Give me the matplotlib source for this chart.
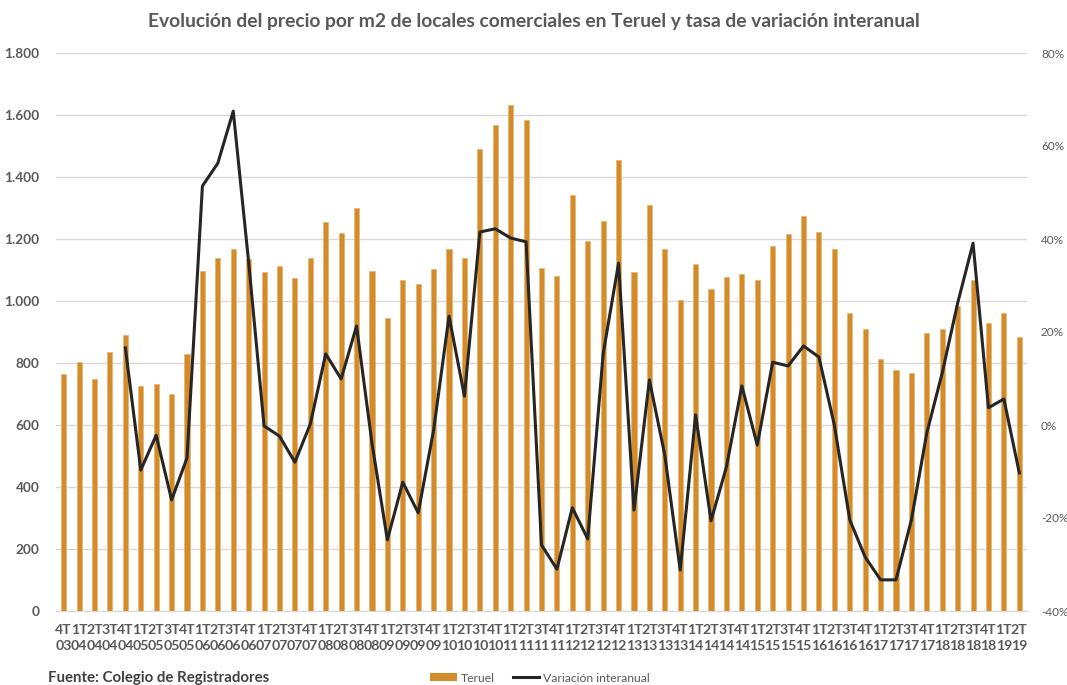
import numpy as np
import matplotlib.pyplot as plt
from matplotlib.lines import Line2D
from matplotlib.patches import Patch
from matplotlib.ticker import FuncFormatter

plt.rcParams['font.family'] = ['Lato', 'DejaVu Sans']

# Periodos trimestrales: 4T03 ... 2T19
periodos = ['4T03'] + [f'{q}T{a:02d}' for a in range(4, 19) for q in range(1, 5)] + ['1T19', '2T19']

# Precio medio por m2 de locales comerciales en Teruel (EUR)
precio = [765, 803, 748, 835, 890, 726, 732, 700, 829,
          1097, 1139, 1168, 1135, 1094, 1113, 1074, 1139,
          1255, 1219, 1300, 1097, 945, 1068, 1055, 1103,
          1168, 1139, 1490, 1568, 1632, 1584, 1106, 1081,
          1342, 1194, 1258, 1455, 1094, 1310, 1168, 1003,
          1118, 1039, 1077, 1087, 1068, 1177, 1216, 1274,
          1223, 1168, 960, 910, 813, 777, 768, 897,
          910, 984, 1068, 929, 961, 884]

# Tasa de variación interanual (%), desde 4T04
variacion = [16.6, -9.7, -2.2, -16.1, -7.1,
             51.4, 56.3, 67.5, 35.0, -0.2, -2.4, -8.0, 0.2,
             15.3, 9.9, 21.3, -3.9, -24.7, -12.3, -18.9, -1.1,
             23.4, 6.2, 41.5, 42.2, 40.2, 39.4, -25.8, -31.0,
             -17.8, -24.5, 15.3, 34.8, -18.3, 9.7, -6.5, -31.2,
             2.2, -20.6, -9.0, 8.4, -4.3, 13.5, 12.7, 17.0,
             14.6, 0.0, -20.4, -28.4, -33.3, -33.3, -20.4, -1.7,
             11.2, 26.2, 39.1, 3.7, 5.6, -10.3]

naranja = '#D48B2A'
gris_texto = '#595959'
gris_rejilla = '#D9D9D9'

x = np.arange(len(periodos))
x_var = x[len(periodos) - len(variacion):]

fig = plt.figure(figsize=(10.67, 6.85), dpi=100)
ax = fig.add_axes([56 / 1067, 1 - 611 / 685, 971 / 1067, 558 / 685])

ax.bar(x, precio, width=0.33, color=naranja, edgecolor='#E6B46E', linewidth=0.5, zorder=2)
ax.set_xlim(-0.5, len(periodos) - 0.5)
ax.set_ylim(0, 1800)
ax.set_yticks(range(0, 1801, 200))
ax.yaxis.set_major_formatter(FuncFormatter(lambda v, p: f'{int(v):,}'.replace(',', '.')))
ax.grid(axis='y', color=gris_rejilla, linewidth=1, zorder=0)
ax.set_axisbelow(True)
for s in ['top', 'right', 'left']:
    ax.spines[s].set_visible(False)
ax.spines['bottom'].set_color(gris_rejilla)
ax.tick_params(axis='y', length=0, pad=12, labelsize=9.8, labelcolor=gris_texto)
for t in ax.get_yticklabels():
    t.set_fontweight('bold')

ax.set_xticks(x)
ax.set_xticklabels([p[:2] + '\n' + p[2:] for p in periodos], fontsize=10.2,
                   fontweight='bold', color=gris_texto, linespacing=1.4)
ax.tick_params(axis='x', length=0, pad=9)

# Eje secundario para la variación interanual
ax2 = ax.twinx()
ax2.plot(x_var, variacion, color='#262626', linewidth=2.2, zorder=3)
ax2.set_ylim(-40, 80)
ax2.set_yticks(range(-40, 81, 20))
ax2.yaxis.set_major_formatter(FuncFormatter(lambda v, p: f'{int(v)}%'))
ax2.tick_params(axis='y', length=0, pad=10, labelsize=8.5, labelcolor=gris_texto)
for s in ax2.spines.values():
    s.set_visible(False)

fig.text(0.5, 1 - 22 / 685, 'Evolución del precio por m2 de locales comerciales en Teruel y tasa de variación interanual',
         ha='center', va='center', fontsize=13.9, fontweight='bold', color=gris_texto)

fig.text(48 / 1067, 1 - 678 / 685, 'Fuente: Colegio de Registradores', ha='left', va='center',
         fontsize=10.8, fontweight='bold', color='#404040')

handles = [Patch(facecolor=naranja, edgecolor='none'),
           Line2D([0], [0], color='#262626', linewidth=2.2)]
fig.legend(handles, ['Teruel', 'Variación interanual'], loc='center', ncol=2,
           bbox_to_anchor=(540 / 1067, 1 - 678 / 685), frameon=False, fontsize=8.7,
           labelcolor=gris_texto, handlelength=2.2, handleheight=0.6, columnspacing=1.5,
           handletextpad=0.3)

fig.savefig('out.png', dpi=100)
